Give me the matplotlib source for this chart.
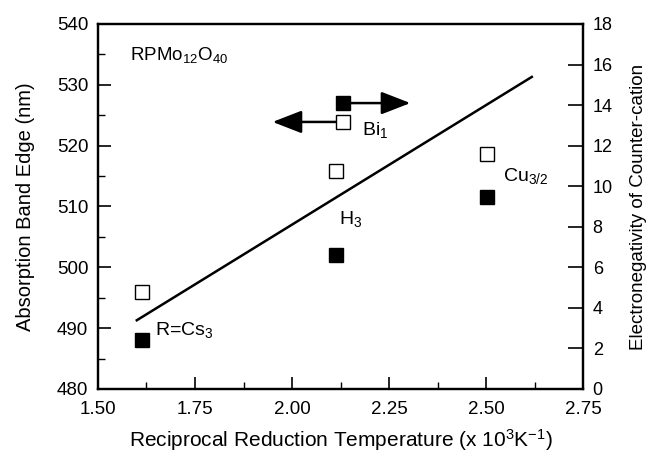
import matplotlib.pyplot as plt
from matplotlib.ticker import MultipleLocator

plt.rcParams['font.family'] = ['Liberation Sans', 'DejaVu Sans']
plt.rcParams['mathtext.fontset'] = 'custom'
plt.rcParams['mathtext.rm'] = 'Liberation Sans'
plt.rcParams['mathtext.default'] = 'regular'

# absorption band edge (left axis, open squares)
x_open = [1.614, 2.113, 2.132, 2.502]
edge_nm = [496.0, 515.9, 523.9, 518.7]

# electronegativity of counter-cation (right axis, filled squares)
x_filled = [1.614, 2.113, 2.132, 2.502]
electroneg = [2.4, 6.6, 14.1, 9.45]

# fitted line
fit_x = [1.60, 2.618]
fit_y = [491.3, 531.3]

labels = ['R=Cs$_3$', 'H$_3$', 'Bi$_1$', 'Cu$_{3/2}$']
label_x = [1.647, 2.121, 2.18, 2.544]
label_y = [489.7, 508.0, 522.6, 515.0]

fig = plt.figure(figsize=(6.52, 4.57), dpi=100)
ax = fig.add_axes([0.1503, 0.1488, 0.7439, 0.7987])
ax2 = ax.twinx()

ax.plot(fit_x, fit_y, color='black', lw=1.8)
ax.plot(x_open, edge_nm, 's', ms=10, mfc='white', mec='black', mew=1.0, zorder=5)
ax2.plot(x_filled, electroneg, 's', ms=10, mfc='black', mec='black', zorder=5)

for t, lx, ly in zip(labels, label_x, label_y):
    ax.text(lx, ly, t, fontsize=14, va='center', ha='left')
ax.text(1.582, 534.9, 'RPMo$_{12}$O$_{40}$', fontsize=13.5, va='center', ha='left')

# arrows pointing to the relevant axis
ax.annotate('', xy=(1.95, 523.9), xytext=(2.115, 523.9),
            arrowprops=dict(arrowstyle='-|>,head_length=0.9,head_width=0.35',
                            color='black', lw=1.8, mutation_scale=20,
                            shrinkA=0, shrinkB=0))
ax2.annotate('', xy=(2.305, 14.1), xytext=(2.15, 14.1),
             arrowprops=dict(arrowstyle='-|>,head_length=0.9,head_width=0.35',
                             color='black', lw=1.8, mutation_scale=20,
                             shrinkA=0, shrinkB=0))

ax.set_xlim(1.50, 2.75)
ax.set_ylim(480, 540)
ax2.set_ylim(0, 18)

ax.xaxis.set_minor_locator(MultipleLocator(0.125))
ax.yaxis.set_major_locator(MultipleLocator(10))
ax.yaxis.set_minor_locator(MultipleLocator(5))
ax2.yaxis.set_major_locator(MultipleLocator(2))
ax.set_xticks([1.50, 1.75, 2.00, 2.25, 2.50, 2.75])
ax.set_xticklabels(['1.50', '1.75', '2.00', '2.25', '2.50', '2.75'])

ax.tick_params(axis='both', which='major', direction='in', length=9, width=1.2,
               labelsize=13.5, top=False)
ax.tick_params(axis='x', which='major', pad=9)
ax.tick_params(axis='y', which='major', pad=7)
ax.tick_params(axis='both', which='minor', direction='in', length=5, width=1.0)
ax.tick_params(axis='y', which='both', right=False)
ax2.tick_params(axis='y', which='major', direction='in', length=11, width=1.2,
                labelsize=13, pad=7)

for a in (ax, ax2):
    for s in a.spines.values():
        s.set_linewidth(1.6)

ax.set_xlabel('Reciprocal Reduction Temperature (x 10$^3$K$^{-1}$)', fontsize=15, labelpad=6)
ax.set_ylabel('Absorption Band Edge (nm)', fontsize=14.5, labelpad=16)
ax2.set_ylabel('Electronegativity of Counter-cation', fontsize=13.5, labelpad=12)

fig.savefig('out.png', dpi=100)
